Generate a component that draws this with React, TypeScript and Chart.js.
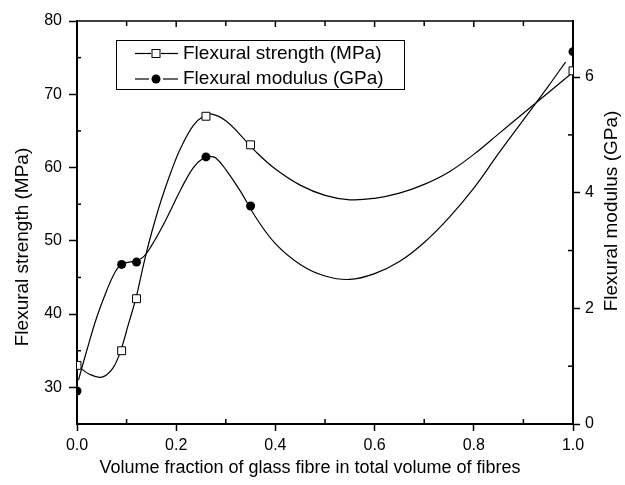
import React, { useEffect, useRef } from "react";
import { Chart, registerables } from "chart.js";

Chart.register(...registerables);

const FONT = "'Liberation Sans', Arial, Helvetica, sans-serif";

// Measured data points (markers)
const markerX = [0, 0.09, 0.12, 0.26, 0.35, 1.0];
const strengthValues = [33.0, 35.0, 42.1, 67.0, 63.1, 73.2];
const modulusValues = [0.57, 2.76, 2.8, 4.62, 3.77, 6.44];

// Fitted curves
const strengthCurveX = [0.0, 0.025, 0.05, 0.072, 0.088, 0.104, 0.119, 0.135, 0.15, 0.17, 0.19, 0.21, 0.235, 0.255, 0.272, 0.3, 0.33, 0.36, 0.4, 0.45, 0.5, 0.55, 0.6, 0.65, 0.7, 0.75, 0.8, 0.85, 0.9, 0.95, 1.0];
const strengthCurveY = [33.0, 31.8, 31.4, 32.6, 35.0, 38.7, 42.2, 47.0, 51.0, 55.6, 59.5, 62.8, 65.8, 67.0, 67.3, 66.4, 64.4, 62.2, 59.8, 57.6, 56.2, 55.6, 55.8, 56.5, 57.7, 59.4, 61.8, 64.6, 67.4, 70.2, 73.0];
const modulusCurveX = [0.003, 0.02, 0.04, 0.06, 0.075, 0.088, 0.105, 0.12, 0.135, 0.15, 0.17, 0.19, 0.21, 0.235, 0.255, 0.268, 0.28, 0.3, 0.33, 0.36, 0.4, 0.45, 0.5, 0.55, 0.6, 0.65, 0.7, 0.75, 0.8, 0.85, 0.9, 0.95, 0.985];
const modulusCurveY = [0.76, 1.28, 1.85, 2.31, 2.6, 2.75, 2.8, 2.82, 2.9, 3.08, 3.38, 3.72, 4.07, 4.44, 4.6, 4.63, 4.6, 4.4, 4.02, 3.58, 3.12, 2.76, 2.56, 2.5, 2.6, 2.81, 3.14, 3.57, 4.08, 4.68, 5.26, 5.84, 6.26];

// Axis ticks
const xTicks = [0, 0.2, 0.4, 0.6, 0.8, 1.0];
const xMinorTicks = [0.1, 0.3, 0.5, 0.7, 0.9];
const yTicks = [30, 40, 50, 60, 70, 80];
const yMinorTicks = [35, 45, 55, 65, 75];
const y2Ticks = [0, 2, 4, 6];
const y2MinorTicks = [1, 3, 5];

const seriesLabels = ["Flexural strength (MPa)", "Flexural modulus (GPa)"];
const xTitle = "Volume fraction of glass fibre in total volume of fibres";
const yTitle = "Flexural strength (MPa)";
const y2Title = "Flexural modulus (GPa)";

const extrasPlugin = {
  id: "extras",
  afterDraw(chart: any) {
    const ctx = chart.ctx;
    const { left, right, top, bottom } = chart.chartArea;
    const { x, y, y2 } = chart.scales;
    ctx.save();
    ctx.strokeStyle = "#000";
    ctx.fillStyle = "#000";
    const line = (x1: number, y1: number, x2: number, y2p: number) => {
      ctx.beginPath();
      ctx.moveTo(x1, y1);
      ctx.lineTo(x2, y2p);
      ctx.stroke();
    };
    ctx.lineWidth = 1.5;
    line(left - 1, top, right + 1, top);
    xTicks.forEach((v) => {
      const px = x.getPixelForValue(v);
      line(px, top, px, top + 6);
    });
    xMinorTicks.forEach((v) => {
      const px = x.getPixelForValue(v);
      line(px, top, px, top + 5);
      line(px, bottom, px, bottom - 5);
    });
    yMinorTicks.forEach((v) => {
      const py = y.getPixelForValue(v);
      line(left, py, left + 4, py);
    });
    y2MinorTicks.forEach((v) => {
      const py = y2.getPixelForValue(v);
      line(right, py, right - 5, py);
    });

    ctx.fillStyle = "#000";
    ctx.textAlign = "center";
    ctx.textBaseline = "middle";
    ctx.font = `18px ${FONT}`;
    ctx.fillText(xTitle, 310, 468);
    ctx.font = `19px ${FONT}`;
    ctx.save();
    ctx.translate(23, 247);
    ctx.rotate(-Math.PI / 2);
    ctx.fillText(yTitle, 0, 0);
    ctx.restore();
    ctx.save();
    ctx.translate(612, 211);
    ctx.rotate(-Math.PI / 2);
    ctx.fillText(y2Title, 0, 0);
    ctx.restore();

    // legend
    ctx.lineWidth = 1;
    ctx.strokeRect(116.5, 40.5, 288, 49);
    const rows = [53.5, 79];
    const mx = 156;
    ctx.lineWidth = 1.2;
    line(135, rows[0], mx - 5, rows[0]);
    line(mx + 5, rows[0], 178, rows[0]);
    ctx.fillStyle = "#fff";
    ctx.fillRect(mx - 4, rows[0] - 4, 8, 8);
    ctx.lineWidth = 1;
    ctx.strokeRect(mx - 4, rows[0] - 4, 8, 8);
    ctx.lineWidth = 1.2;
    line(135, rows[1], mx - 7, rows[1]);
    line(mx + 7, rows[1], 178, rows[1]);
    ctx.fillStyle = "#000";
    ctx.beginPath();
    ctx.arc(mx, rows[1], 4.5, 0, Math.PI * 2);
    ctx.fill();
    ctx.font = `19px ${FONT}`;
    ctx.textAlign = "left";
    ctx.textBaseline = "middle";
    ctx.fillText(seriesLabels[0], 183, rows[0]);
    ctx.fillText(seriesLabels[1], 183, rows[1]);
    ctx.restore();
  },
};

export default function App() {
  const canvasRef = useRef<HTMLCanvasElement | null>(null);

  useEffect(() => {
    if (!canvasRef.current) return;
    const toPts = (xs: number[], ys: number[]) => xs.map((v, i) => ({ x: v, y: ys[i] }));
    const tickFont = { family: FONT, size: 16 };
    const chart = new Chart(canvasRef.current, {
      type: "scatter",
      data: {
        datasets: [
          {
            label: seriesLabels[0] + " points",
            data: toPts(markerX, strengthValues),
            yAxisID: "y",
            showLine: false,
            pointStyle: "rect",
            pointRadius: 5.6,
            pointBackgroundColor: "#fff",
            pointBorderColor: "#000",
            pointBorderWidth: 1,
            clip: 0,
          } as any,
          {
            label: seriesLabels[1] + " points",
            data: toPts(markerX, modulusValues),
            yAxisID: "y2",
            showLine: false,
            pointStyle: "circle",
            pointRadius: 4.5,
            pointBackgroundColor: "#000",
            pointBorderColor: "#000",
            pointBorderWidth: 0,
            clip: 0,
          },
          {
            label: seriesLabels[0],
            data: toPts(strengthCurveX, strengthCurveY),
            yAxisID: "y",
            showLine: true,
            pointRadius: 0,
            borderColor: "#000",
            borderWidth: 1.2,
            tension: 0.4,
            fill: false,
          },
          {
            label: seriesLabels[1],
            data: toPts(modulusCurveX, modulusCurveY),
            yAxisID: "y2",
            showLine: true,
            pointRadius: 0,
            borderColor: "#000",
            borderWidth: 1.2,
            tension: 0.4,
            fill: false,
          },
        ],
      },
      options: {
        responsive: false,
        animation: false,
        events: [],
        layout: { padding: { top: 21, left: 0, right: 0, bottom: 0 } },
        plugins: { legend: { display: false }, tooltip: { enabled: false } },
        scales: {
          x: {
            type: "linear",
            position: "bottom",
            min: 0,
            max: 1,
            afterBuildTicks: (s: any) => {
              s.ticks = xTicks.map((v) => ({ value: v }));
            },
            afterFit: (s: any) => {
              s.height = 61;
            },
            ticks: {
              callback: (v: any) => Number(v).toFixed(1),
              font: tickFont,
              color: "#000",
              padding: 5,
              maxRotation: 0,
              autoSkip: false,
            },
            grid: { drawOnChartArea: false, drawTicks: true, tickLength: 7, tickColor: "#000", tickWidth: 1.5 },
            border: { color: "#000", width: 2 },
          },
          y: {
            type: "linear",
            position: "left",
            min: 25,
            max: 80,
            afterBuildTicks: (s: any) => {
              s.ticks = yTicks.map((v) => ({ value: v }));
            },
            afterFit: (s: any) => {
              s.width = 77;
            },
            ticks: { font: tickFont, color: "#000", padding: 7, autoSkip: false },
            grid: { drawOnChartArea: false, drawTicks: true, tickLength: 8, tickColor: "#000", tickWidth: 1.5 },
            border: { color: "#000", width: 2 },
          },
          y2: {
            type: "linear",
            position: "right",
            min: 0,
            max: 6.97,
            afterBuildTicks: (s: any) => {
              s.ticks = y2Ticks.map((v) => ({ value: v }));
            },
            afterFit: (s: any) => {
              s.width = 52;
            },
            ticks: { font: tickFont, color: "#000", padding: 5, autoSkip: false },
            grid: { drawOnChartArea: false, drawTicks: true, tickLength: 7, tickColor: "#000", tickWidth: 1.5 },
            border: { color: "#000", width: 2 },
          },
        },
      },
      plugins: [extrasPlugin],
    });
    return () => chart.destroy();
  }, []);

  return (
    <div style={{ position: "fixed", left: 0, top: 0, width: 625, height: 485, background: "#fff" }}>
      <canvas ref={canvasRef} width={625} height={485} style={{ display: "block" }} />
    </div>
  );
}
